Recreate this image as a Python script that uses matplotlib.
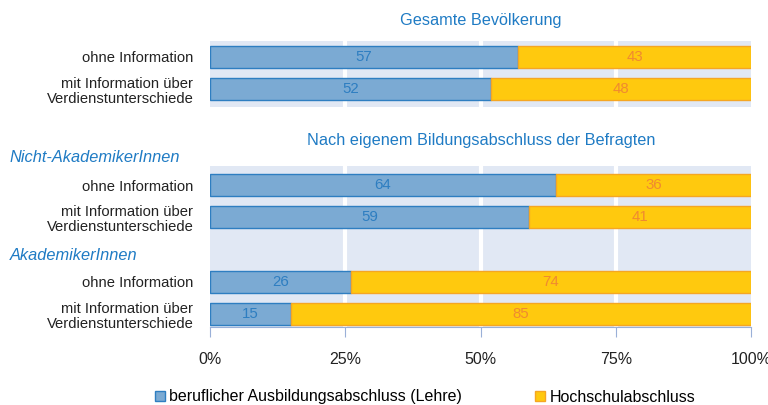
import matplotlib.pyplot as plt
from matplotlib.patches import Patch

# data
top_labels = ["ohne Information", "mit Information über\nVerdienstunterschiede"]
top_lehre = [57, 52]
top_hoch = [43, 48]

bottom_labels = ["ohne Information", "mit Information über\nVerdienstunterschiede",
                 "ohne Information", "mit Information über\nVerdienstunterschiede"]
bottom_lehre = [64, 59, 26, 15]
bottom_hoch = [36, 41, 74, 85]
groups = ["Nicht-AkademikerInnen", "AkademikerInnen"]

ticks = [0, 25, 50, 75, 100]
tick_labels = ["0%", "25%", "50%", "75%", "100%"]
series = ["beruflicher Ausbildungsabschluss (Lehre)", "Hochschulabschluss"]

# style
plt.rcParams["font.family"] = ["Liberation Sans", "DejaVu Sans"]

blue_fill, blue_edge = "#7BAAD3", "#2E7EC1"
yel_fill, yel_edge = "#FFC90E", "#F5A623"
blue_txt, orange_txt = "#2E7EC1", "#F08A30"
bg = "#E1E8F4"
title_c = "#1F7BC4"
text_c = "#222222"

fig = plt.figure(figsize=(7.68, 4.05), dpi=100)
ax1 = fig.add_axes([210 / 768, 1 - 107 / 405, 541 / 768, 66 / 405])
ax2 = fig.add_axes([210 / 768, 1 - 327 / 405, 541 / 768, 161 / 405])

def draw(ax, pos, lehre, hoch, labels):
    ax.set_facecolor(bg)
    for x in [25, 50, 75]:
        ax.axvline(x, color="white", lw=3, zorder=1)
    ax.barh(pos, lehre, height=0.68, color=blue_fill, edgecolor=blue_edge, lw=1, zorder=2)
    ax.barh(pos, hoch, left=lehre, height=0.68, color=yel_fill, edgecolor=yel_edge, lw=1, zorder=2)
    for p, a, b in zip(pos, lehre, hoch):
        ax.text(a / 2, p, str(a), ha="center", va="center", color=blue_txt, fontsize=10.8, zorder=3)
        ax.text(a + b / 2, p, str(b), ha="center", va="center", color=orange_txt, fontsize=10.8, zorder=3)
    ax.set_xlim(0, 100)
    ax.set_yticks(pos)
    ax.set_yticklabels(labels, fontsize=10.6, color=text_c, linespacing=1.1)
    ax.tick_params(axis="y", length=0, pad=12)
    for s in ax.spines.values():
        s.set_visible(False)

top_pos = [0, 1]
draw(ax1, top_pos, top_lehre, top_hoch, top_labels)
ax1.set_ylim(1.55, -0.48)
ax1.set_xticks([])

bottom_pos = [0, 1, 3, 4]
draw(ax2, bottom_pos, bottom_lehre, bottom_hoch, bottom_labels)
ax2.set_ylim(4.4, -0.59)
ax2.set_xticks(ticks)
ax2.set_xticklabels(tick_labels, fontsize=11.5, color=text_c)
ax2.spines["bottom"].set_visible(True)
ax2.spines["bottom"].set_color("#9AB0D8")
ax2.tick_params(axis="x", length=7, color="#9AB0D8", pad=11)

fig.text(481 / 768, 1 - 20 / 405, "Gesamte Bevölkerung", ha="center", va="center",
         color=title_c, fontsize=11.7)
fig.text(481 / 768, 1 - 141 / 405, "Nach eigenem Bildungsabschluss der Befragten",
         ha="center", va="center", color=title_c, fontsize=11.7)
fig.text(10 / 768, 1 - 157 / 405, groups[0], ha="left", va="center", color=title_c,
         fontsize=11.8, style="italic")
fig.text(10 / 768, 1 - 256 / 405, groups[1], ha="left", va="center", color=title_c,
         fontsize=11.8, style="italic")

handles = [Patch(facecolor=blue_fill, edgecolor=blue_edge),
           Patch(facecolor=yel_fill, edgecolor=yel_edge)]
for h, lab, x0 in zip(handles, series, [155, 535]):
    fig.legend([h], [lab], loc="center left", bbox_to_anchor=(x0 / 768, 1 - 397 / 405),
               frameon=False, handlelength=0.6, handleheight=0.6, handletextpad=0.3,
               borderpad=0, borderaxespad=0, prop={"size": 11.5})

fig.savefig("out.png", dpi=100)
